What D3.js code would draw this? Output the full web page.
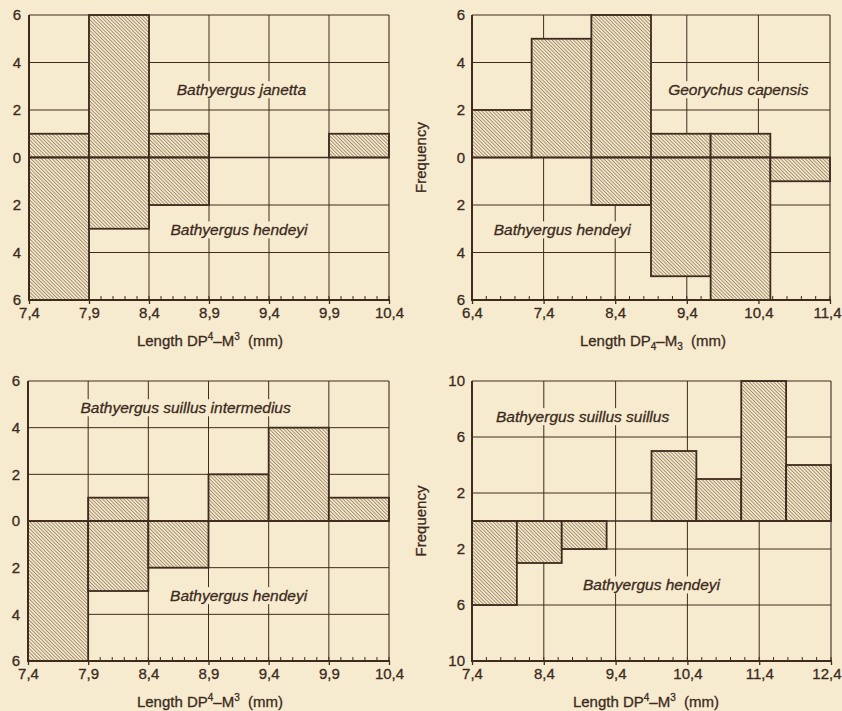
<!DOCTYPE html>
<html><head><meta charset="utf-8">
<script src="https://cdn.jsdelivr.net/npm/d3@7"></script>
<style>
html,body{margin:0;padding:0;background:#f7ebcf;}
svg{display:block;}
text{font-family:"Liberation Sans",Arial,Helvetica,sans-serif;fill:#3b2a20;stroke:#3b2a20;stroke-width:0.3px;}
</style></head>
<body>
<svg id="c" width="842" height="711"></svg>
<script>
// ---------- data ----------
const p1Bins  = [7.4, 7.9, 8.4, 8.9, 9.4, 9.9, 10.4];
const p1Upper = [1, 6, 1, 0, 0, 1];          // Bathyergus janetta
const p1Lower = [6, 3, 2, 0, 0, 0];          // Bathyergus hendeyi

const p2Bins  = [6.4, 7.233, 8.067, 8.9, 9.733, 10.567, 11.4];
const p2Upper = [2, 5, 6, 1, 1, 0];          // Georychus capensis
const p2Lower = [0, 0, 2, 5, 6, 1];          // Bathyergus hendeyi

const p3Bins  = [7.4, 7.9, 8.4, 8.9, 9.4, 9.9, 10.4];
const p3Upper = [0, 1, 0, 2, 4, 1];          // Bathyergus suillus intermedius
const p3Lower = [6, 3, 2, 0, 0, 0];          // Bathyergus hendeyi

const p4Bins  = [7.4, 8.025, 8.65, 9.275, 9.9, 10.525, 11.15, 11.775, 12.4];
const p4Upper = [0, 0, 0, 0, 5, 3, 10, 4];   // Bathyergus suillus suillus
const p4Lower = [6, 3, 2, 0, 0, 0, 0, 0];    // Bathyergus hendeyi

const xTicksA = [7.4, 7.9, 8.4, 8.9, 9.4, 9.9, 10.4];
const xTickLabelsA = ["7,4","7,9","8,4","8,9","9,4","9,9","10,4"];
const xTicksB = [6.4, 7.4, 8.4, 9.4, 10.4, 11.4];
const xTickLabelsB = ["6,4","7,4","8,4","9,4","10,4","11,4"];
const xTicksC = [7.4, 8.4, 9.4, 10.4, 11.4, 12.4];
const xTickLabelsC = ["7,4","8,4","9,4","10,4","11,4","12,4"];

const yTicks6  = [6, 4, 2, 0, -2, -4, -6];
const yTickLabels6 = ["6","4","2","0","2","4","6"];
const yTicks10 = [10, 6, 2, 0, -2, -6, -10];
const yTickLabels10 = ["10","6","2","","2","6","10"];

const upperNames = ["Bathyergus janetta","Georychus capensis","Bathyergus suillus intermedius","Bathyergus suillus suillus"];
const lowerName = "Bathyergus hendeyi";
const xTitleSup = ["Length DP","4","–M","3","  (mm)"];
const yTitle = "Frequency";

// ---------- layout ----------
const INK = "#3f2a1e";
const BG = "#f7ebcf";
const svg = d3.select("#c");
svg.append("rect").attr("width",842).attr("height",711).attr("fill",BG);

const defs = svg.append("defs");
const HS = 2.5;
const pat = defs.append("pattern").attr("id","hatch").attr("patternUnits","userSpaceOnUse")
  .attr("width",HS).attr("height",HS).attr("patternTransform","rotate(45)");
pat.append("rect").attr("width",HS).attr("height",HS).attr("fill","#f3e6c6");
pat.append("line").attr("x1",0).attr("y1",0).attr("x2",HS).attr("y2",0)
  .attr("stroke","#56402f").attr("stroke-width",0.95);

const panels = [
  {x0:29, x1:389, y0:15, y1:300, xd:[7.4,10.4], yd:[-6,6], bins:p1Bins, up:p1Upper, lo:p1Lower,
   xt:xTicksA, xtl:xTickLabelsA, minor:0.1, yt:yTicks6, ytl:yTickLabels6, grid:[4,2,-2,-4],
   up_name:upperNames[0], upPos:[9.17,2.85], loPos:[9.15,-3.05], sub:false, ylab:false, ylx:21, tx:210},
  {x0:472, x1:830, y0:15, y1:300, xd:[6.4,11.4], yd:[-6,6], bins:p2Bins, up:p2Upper, lo:p2Lower,
   xt:xTicksB, xtl:xTickLabelsB, minor:0.2, yt:yTicks6, ytl:yTickLabels6, grid:[4,2,-2,-4],
   up_name:upperNames[1], upPos:[10.12,2.85], loPos:[7.66,-3.05], sub:true, ylab:true, ylx:465, tx:653},
  {x0:28, x1:389, y0:381, y1:661, xd:[7.4,10.4], yd:[-6,6], bins:p3Bins, up:p3Upper, lo:p3Lower,
   xt:xTicksA, xtl:xTickLabelsA, minor:0.1, yt:yTicks6, ytl:yTickLabels6, grid:[4,2,-2,-4],
   up_name:upperNames[2], upPos:[8.71,4.85], loPos:[9.15,-3.2], sub:false, ylab:false, ylx:20, tx:210},
  {x0:472, x1:831, y0:381, y1:661, xd:[7.4,12.4], yd:[-10,10], bins:p4Bins, up:p4Upper, lo:p4Lower,
   xt:xTicksC, xtl:xTickLabelsC, minor:0.2, yt:yTicks10, ytl:yTickLabels10, grid:[6,2,-2,-6],
   up_name:upperNames[3], upPos:[8.94,7.45], loPos:[9.9,-4.57], sub:false, ylab:true, ylx:465, tx:646}
];

panels.forEach(p => {
  const x = d3.scaleLinear().domain(p.xd).range([p.x0, p.x1]);
  const y = d3.scaleLinear().domain(p.yd).range([p.y1, p.y0]);
  const g = svg.append("g");

  // grid
  g.selectAll("line.hg").data(p.grid).join("line")
    .attr("x1",p.x0).attr("x2",p.x1).attr("y1",d=>y(d)).attr("y2",d=>y(d))
    .attr("stroke",INK).attr("stroke-width",1);
  g.selectAll("line.vg").data(p.xt.slice(1,-1)).join("line")
    .attr("x1",d=>x(d)).attr("x2",d=>x(d)).attr("y1",p.y0).attr("y2",p.y1)
    .attr("stroke",INK).attr("stroke-width",1);

  // minor ticks
  const minors = d3.range(p.xd[0], p.xd[1]+1e-9, p.minor);
  g.selectAll("line.mt").data(minors).join("line")
    .attr("x1",d=>x(d)).attr("x2",d=>x(d)).attr("y1",p.y1).attr("y2",p.y1-4)
    .attr("stroke",INK).attr("stroke-width",1);

  // bars
  const binsData = p.bins.slice(0,-1).map((b,i)=>({a:b, b:p.bins[i+1], up:p.up[i], lo:p.lo[i]}));
  g.selectAll("rect.up").data(binsData.filter(d=>d.up>0)).join("rect")
    .attr("x",d=>x(d.a)).attr("width",d=>x(d.b)-x(d.a))
    .attr("y",d=>y(d.up)).attr("height",d=>y(0)-y(d.up))
    .attr("fill","url(#hatch)").attr("stroke",INK).attr("stroke-width",1.8);
  g.selectAll("rect.lo").data(binsData.filter(d=>d.lo>0)).join("rect")
    .attr("x",d=>x(d.a)).attr("width",d=>x(d.b)-x(d.a))
    .attr("y",y(0)).attr("height",d=>y(-d.lo)-y(0))
    .attr("fill","url(#hatch)").attr("stroke",INK).attr("stroke-width",1.8);

  // zero line
  g.append("line").attr("x1",p.x0).attr("x2",p.x1).attr("y1",y(0)).attr("y2",y(0))
    .attr("stroke",INK).attr("stroke-width",1.4);

  // frame
  g.append("line").attr("x1",p.x0).attr("x2",p.x1).attr("y1",p.y0).attr("y2",p.y0)
    .attr("stroke",INK).attr("stroke-width",1.1);
  g.append("line").attr("x1",p.x1).attr("x2",p.x1).attr("y1",p.y0).attr("y2",p.y1)
    .attr("stroke",INK).attr("stroke-width",1.1);
  g.append("line").attr("x1",p.x0).attr("x2",p.x0).attr("y1",p.y0).attr("y2",p.y1+1)
    .attr("stroke",INK).attr("stroke-width",2);
  g.append("line").attr("x1",p.x0-1).attr("x2",p.x1+1).attr("y1",p.y1).attr("y2",p.y1)
    .attr("stroke",INK).attr("stroke-width",2);

  // x axis via d3
  const xAxis = d3.axisBottom(x).tickValues(p.xt).tickSize(4).tickPadding(3)
    .tickFormat((d,i)=>p.xtl[i]);
  const ax = g.append("g").attr("transform",`translate(0,${p.y1})`).call(xAxis)
    .attr("font-size",null).attr("font-family",null);
  ax.select(".domain").remove();
  ax.selectAll(".tick line").attr("stroke",INK).attr("stroke-width",1.3);
  ax.selectAll(".tick text").attr("fill",INK).style("font-size","15px");
  // keep the last label inside the page
  if (p.x1 > 820) {
    ax.selectAll(".tick text").filter((d,i)=>i===p.xt.length-1)
      .attr("text-anchor","end").attr("x", 841 - p.x1);
  }

  // y axis via d3
  const yAxis = d3.axisLeft(y).tickValues(p.yt).tickSize(0).tickPadding(0)
    .tickFormat((d,i)=>p.ytl[i]);
  const ay = g.append("g").attr("transform",`translate(${p.ylx},0)`).call(yAxis)
    .attr("font-size",null).attr("font-family",null);
  ay.select(".domain").remove();
  ay.selectAll(".tick text").attr("fill",INK).style("font-size","15px");

  // x title
  const t = g.append("text").attr("x",p.tx).attr("y",p.y1+46)
    .attr("text-anchor","middle").style("font-size","15px");
  t.append("tspan").text(xTitleSup[0]);
  t.append("tspan").text(xTitleSup[1]).style("font-size","10px")
    .attr("dy", p.sub ? 4 : -6);
  t.append("tspan").text(xTitleSup[2]).attr("dy", p.sub ? -4 : 6);
  t.append("tspan").text(xTitleSup[3]).style("font-size","10px")
    .attr("dy", p.sub ? 4 : -6);
  t.append("tspan").text(xTitleSup[4]).attr("dy", p.sub ? -4 : 6)
    .style("white-space","pre").attr("xml:space","preserve");

  // y title
  if (p.ylab) {
    g.append("text").attr("transform",`translate(${p.x0-51},${(p.y0+p.y1)/2}) rotate(-90)`)
      .attr("text-anchor","middle").attr("dy","0.35em").style("font-size","15px").text(yTitle);
  }

  // species labels with background
  [[p.up_name,p.upPos],[lowerName,p.loPos]].forEach(([name,pos])=>{
    const lt = g.append("text").attr("x",x(pos[0])).attr("y",y(pos[1]))
      .attr("text-anchor","middle").attr("dy","0.35em")
      .style("font-size","15.5px").style("font-style","italic").text(name);
    const bb = lt.node().getBBox();
    g.insert("rect", () => lt.node()).attr("x",bb.x-3).attr("y",bb.y)
      .attr("width",bb.width+6).attr("height",bb.height).attr("fill",BG);
  });
});
</script>
</body></html>
